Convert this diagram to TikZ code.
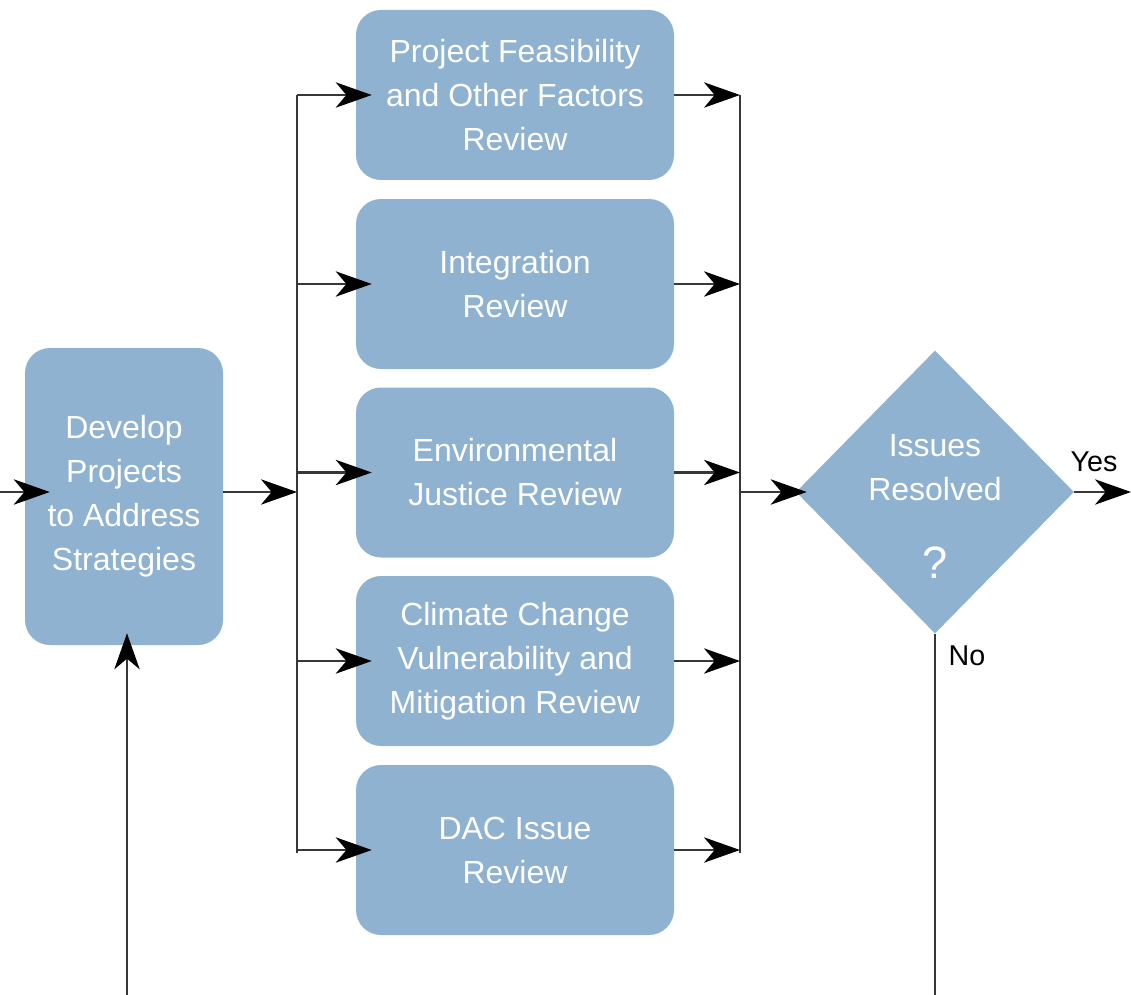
\documentclass[tikz,border=0pt]{standalone}
\usepackage{fontspec}
\setmainfont{Liberation Sans}
\usetikzlibrary{arrows.meta,shapes.geometric}
\definecolor{boxblue}{RGB}{143,178,208}
\definecolor{linegray}{RGB}{55,55,55}
\tikzset{
  stepbox/.style={fill=boxblue, draw=none, rounded corners=18.75pt, minimum width=238.5pt, minimum height=127.5pt, align=center, text=white, font=\fontsize{24}{33}\selectfont, inner sep=0pt},
  devbox/.style={stepbox, minimum width=148.5pt, minimum height=222.75pt},
  dia/.style={diamond, fill=boxblue, draw=none, minimum width=208.5pt, minimum height=212.25pt, inner sep=0pt},
  diatext/.style={text=white, align=center, font=\fontsize{24}{33}\selectfont, inner sep=0pt},
  lbl/.style={text=black, font=\fontsize{21.5}{24}\selectfont, inner sep=0pt},
  conn/.style={draw=linegray, line width=1.6pt},
  arr/.style={conn, -{Stealth[length=27pt,width=19pt,inset=8pt,color=black]}},
}
\begin{document}
\begin{tikzpicture}[x=0.75pt,y=-0.75pt]
\useasboundingbox (0,0) rectangle (1131,995);
% nodes
\node[devbox] (dev) at (124,496.5) {Develop\\Projects\\to Address\\Strategies};
\node[stepbox] (r1) at (515,95) {Project Feasibility\\and Other Factors\\Review};
\node[stepbox] (r2) at (515,284) {Integration\\Review};
\node[stepbox] (r3) at (515,472.5) {Environmental\\Justice Review};
\node[stepbox] (r4) at (515,661) {Climate Change\\Vulnerability and\\Mitigation Review};
\node[stepbox] (r5) at (515,850) {DAC Issue\\Review};
\node[dia] (dec) at (935,492) {};
\node[diatext] (dect) at (935,468) {Issues\\Resolved};
\node[diatext, font=\fontsize{34}{36}\selectfont] (decq) at (935,563) {?};
\node[lbl] (yes) at (1094,462) {Yes};
\node[lbl] (no) at (967,656) {No};
% coordinates
\coordinate (inL) at (0,492);
\coordinate (inB) at (127,995);
\coordinate (lbT) at (297,95);
\coordinate (lbB) at (297,853);
\coordinate (lbM) at (297,492);
\coordinate (rbT) at (740,95);
\coordinate (rbB) at (740,853);
\coordinate (rbM) at (740,492);
\coordinate (yesE) at (1131,492);
\coordinate (noE) at (935,995);
% connectors
\draw[arr, shorten >=-18.75pt] (inL) -- (inL -| dev.west);
\draw[arr, shorten >=-9pt] (inB) -- (inB |- dev.south);
\draw[arr] (dev.east |- lbM) -- (lbM);
\draw[conn] (lbT) -- (lbB);
\draw[conn] (rbT) -- (rbB);
\foreach \r in {r1,r2,r3,r4,r5}{
  \draw[arr, shorten >=-12pt] (\r.west -| lbT) -- (\r.west);
  \draw[arr] (\r.east) -- (\r.east -| rbT);
}
\draw[arr, shorten >=-8.25pt] (rbM) -- (dec.west);
\draw[arr] (dec.east) -- (yesE);
\draw[conn] (dec.south) -- (noE);
\end{tikzpicture}
\end{document}
